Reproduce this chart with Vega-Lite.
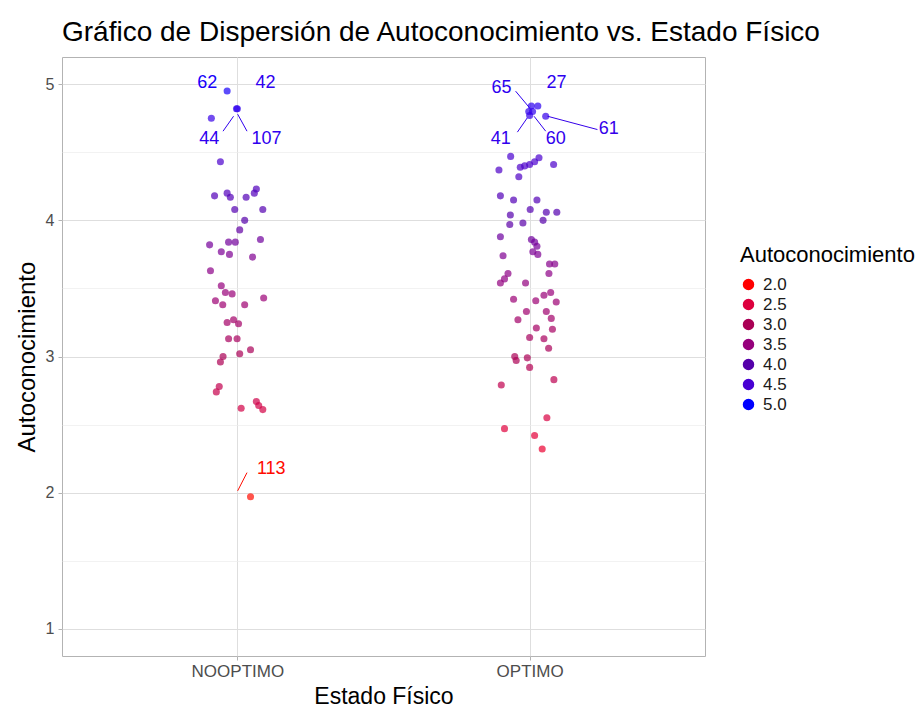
{
  "$schema": "https://vega.github.io/schema/vega-lite/v6.json",
  "autosize": "none",
  "width": 643,
  "height": 599,
  "padding": {"left": 62, "top": 57, "right": 213, "bottom": 59},
  "background": "white",
  "title": {
    "text": "Gráfico de Dispersión de Autoconocimiento vs. Estado Físico",
    "anchor": "start",
    "frame": "group",
    "font": "Liberation Sans",
    "fontSize": 28,
    "fontWeight": "normal",
    "color": "#000000",
    "offset": 10
  },
  "config": {
    "view": {"stroke": "#B3B3B3", "strokeWidth": 1},
    "font": "Liberation Sans"
  },
  "datasets": {
    "points": [
      {"estado": "NOOPTIMO", "xpos": 0.965, "autoconocimiento": 4.95},
      {"estado": "NOOPTIMO", "xpos": 0.997, "autoconocimiento": 4.82},
      {"estado": "NOOPTIMO", "xpos": 1.0, "autoconocimiento": 4.82},
      {"estado": "NOOPTIMO", "xpos": 0.911, "autoconocimiento": 4.75},
      {"estado": "NOOPTIMO", "xpos": 0.942, "autoconocimiento": 4.43},
      {"estado": "NOOPTIMO", "xpos": 0.922, "autoconocimiento": 4.18},
      {"estado": "NOOPTIMO", "xpos": 0.965, "autoconocimiento": 4.2},
      {"estado": "NOOPTIMO", "xpos": 0.976, "autoconocimiento": 4.17},
      {"estado": "NOOPTIMO", "xpos": 1.03, "autoconocimiento": 4.17},
      {"estado": "NOOPTIMO", "xpos": 1.058, "autoconocimiento": 4.2},
      {"estado": "NOOPTIMO", "xpos": 1.065, "autoconocimiento": 4.23},
      {"estado": "NOOPTIMO", "xpos": 0.991, "autoconocimiento": 4.08},
      {"estado": "NOOPTIMO", "xpos": 1.087, "autoconocimiento": 4.08},
      {"estado": "NOOPTIMO", "xpos": 1.025, "autoconocimiento": 4.0},
      {"estado": "NOOPTIMO", "xpos": 1.008, "autoconocimiento": 3.93},
      {"estado": "NOOPTIMO", "xpos": 0.905, "autoconocimiento": 3.82},
      {"estado": "NOOPTIMO", "xpos": 0.97, "autoconocimiento": 3.84},
      {"estado": "NOOPTIMO", "xpos": 0.993, "autoconocimiento": 3.84},
      {"estado": "NOOPTIMO", "xpos": 1.079, "autoconocimiento": 3.86},
      {"estado": "NOOPTIMO", "xpos": 0.945, "autoconocimiento": 3.77},
      {"estado": "NOOPTIMO", "xpos": 0.973, "autoconocimiento": 3.75},
      {"estado": "NOOPTIMO", "xpos": 1.052, "autoconocimiento": 3.73},
      {"estado": "NOOPTIMO", "xpos": 0.908, "autoconocimiento": 3.63},
      {"estado": "NOOPTIMO", "xpos": 0.945, "autoconocimiento": 3.52},
      {"estado": "NOOPTIMO", "xpos": 0.959, "autoconocimiento": 3.47},
      {"estado": "NOOPTIMO", "xpos": 0.982, "autoconocimiento": 3.46},
      {"estado": "NOOPTIMO", "xpos": 0.925, "autoconocimiento": 3.41},
      {"estado": "NOOPTIMO", "xpos": 0.95, "autoconocimiento": 3.38},
      {"estado": "NOOPTIMO", "xpos": 1.025, "autoconocimiento": 3.38},
      {"estado": "NOOPTIMO", "xpos": 1.09, "autoconocimiento": 3.43},
      {"estado": "NOOPTIMO", "xpos": 0.965, "autoconocimiento": 3.25},
      {"estado": "NOOPTIMO", "xpos": 0.987, "autoconocimiento": 3.27},
      {"estado": "NOOPTIMO", "xpos": 1.004, "autoconocimiento": 3.24},
      {"estado": "NOOPTIMO", "xpos": 0.97, "autoconocimiento": 3.13},
      {"estado": "NOOPTIMO", "xpos": 0.999, "autoconocimiento": 3.13},
      {"estado": "NOOPTIMO", "xpos": 1.008, "autoconocimiento": 3.02},
      {"estado": "NOOPTIMO", "xpos": 1.045, "autoconocimiento": 3.05},
      {"estado": "NOOPTIMO", "xpos": 0.951, "autoconocimiento": 3.0},
      {"estado": "NOOPTIMO", "xpos": 0.942, "autoconocimiento": 2.96},
      {"estado": "NOOPTIMO", "xpos": 0.938, "autoconocimiento": 2.78},
      {"estado": "NOOPTIMO", "xpos": 0.928, "autoconocimiento": 2.74},
      {"estado": "NOOPTIMO", "xpos": 1.013, "autoconocimiento": 2.62},
      {"estado": "NOOPTIMO", "xpos": 1.065, "autoconocimiento": 2.67},
      {"estado": "NOOPTIMO", "xpos": 1.073, "autoconocimiento": 2.64},
      {"estado": "NOOPTIMO", "xpos": 1.087, "autoconocimiento": 2.61},
      {"estado": "NOOPTIMO", "xpos": 1.045, "autoconocimiento": 1.97},
      {"estado": "OPTIMO", "xpos": 2.006, "autoconocimiento": 4.84},
      {"estado": "OPTIMO", "xpos": 2.028, "autoconocimiento": 4.84},
      {"estado": "OPTIMO", "xpos": 1.997, "autoconocimiento": 4.8},
      {"estado": "OPTIMO", "xpos": 2.01, "autoconocimiento": 4.8},
      {"estado": "OPTIMO", "xpos": 2.0, "autoconocimiento": 4.77},
      {"estado": "OPTIMO", "xpos": 2.055, "autoconocimiento": 4.765},
      {"estado": "OPTIMO", "xpos": 1.935, "autoconocimiento": 4.47},
      {"estado": "OPTIMO", "xpos": 1.895, "autoconocimiento": 4.37},
      {"estado": "OPTIMO", "xpos": 1.968, "autoconocimiento": 4.39},
      {"estado": "OPTIMO", "xpos": 1.983, "autoconocimiento": 4.4},
      {"estado": "OPTIMO", "xpos": 2.0, "autoconocimiento": 4.41},
      {"estado": "OPTIMO", "xpos": 2.017, "autoconocimiento": 4.43},
      {"estado": "OPTIMO", "xpos": 2.032, "autoconocimiento": 4.46},
      {"estado": "OPTIMO", "xpos": 1.963, "autoconocimiento": 4.32},
      {"estado": "OPTIMO", "xpos": 2.082, "autoconocimiento": 4.41},
      {"estado": "OPTIMO", "xpos": 1.9, "autoconocimiento": 4.18},
      {"estado": "OPTIMO", "xpos": 1.945, "autoconocimiento": 4.15},
      {"estado": "OPTIMO", "xpos": 2.025, "autoconocimiento": 4.15},
      {"estado": "OPTIMO", "xpos": 2.002, "autoconocimiento": 4.08},
      {"estado": "OPTIMO", "xpos": 2.057, "autoconocimiento": 4.06},
      {"estado": "OPTIMO", "xpos": 2.093, "autoconocimiento": 4.06},
      {"estado": "OPTIMO", "xpos": 1.934, "autoconocimiento": 4.04},
      {"estado": "OPTIMO", "xpos": 1.932, "autoconocimiento": 3.97},
      {"estado": "OPTIMO", "xpos": 1.977, "autoconocimiento": 3.98},
      {"estado": "OPTIMO", "xpos": 2.046, "autoconocimiento": 4.0},
      {"estado": "OPTIMO", "xpos": 1.9, "autoconocimiento": 3.88},
      {"estado": "OPTIMO", "xpos": 2.006, "autoconocimiento": 3.86},
      {"estado": "OPTIMO", "xpos": 2.017, "autoconocimiento": 3.84},
      {"estado": "OPTIMO", "xpos": 2.025, "autoconocimiento": 3.81},
      {"estado": "OPTIMO", "xpos": 2.011, "autoconocimiento": 3.77},
      {"estado": "OPTIMO", "xpos": 2.028, "autoconocimiento": 3.75},
      {"estado": "OPTIMO", "xpos": 1.909, "autoconocimiento": 3.74},
      {"estado": "OPTIMO", "xpos": 2.068, "autoconocimiento": 3.68},
      {"estado": "OPTIMO", "xpos": 2.086, "autoconocimiento": 3.68},
      {"estado": "OPTIMO", "xpos": 2.066, "autoconocimiento": 3.61},
      {"estado": "OPTIMO", "xpos": 1.926, "autoconocimiento": 3.61},
      {"estado": "OPTIMO", "xpos": 1.914, "autoconocimiento": 3.57},
      {"estado": "OPTIMO", "xpos": 1.9, "autoconocimiento": 3.54},
      {"estado": "OPTIMO", "xpos": 1.986, "autoconocimiento": 3.54},
      {"estado": "OPTIMO", "xpos": 1.945, "autoconocimiento": 3.42},
      {"estado": "OPTIMO", "xpos": 2.021, "autoconocimiento": 3.41},
      {"estado": "OPTIMO", "xpos": 2.049, "autoconocimiento": 3.45},
      {"estado": "OPTIMO", "xpos": 2.072, "autoconocimiento": 3.47},
      {"estado": "OPTIMO", "xpos": 2.091, "autoconocimiento": 3.4},
      {"estado": "OPTIMO", "xpos": 1.989, "autoconocimiento": 3.33},
      {"estado": "OPTIMO", "xpos": 2.057, "autoconocimiento": 3.33},
      {"estado": "OPTIMO", "xpos": 2.074, "autoconocimiento": 3.28},
      {"estado": "OPTIMO", "xpos": 1.96, "autoconocimiento": 3.27},
      {"estado": "OPTIMO", "xpos": 2.023, "autoconocimiento": 3.21},
      {"estado": "OPTIMO", "xpos": 2.078, "autoconocimiento": 3.2},
      {"estado": "OPTIMO", "xpos": 2.0, "autoconocimiento": 3.14},
      {"estado": "OPTIMO", "xpos": 2.049, "autoconocimiento": 3.13},
      {"estado": "OPTIMO", "xpos": 2.065, "autoconocimiento": 3.06},
      {"estado": "OPTIMO", "xpos": 1.949, "autoconocimiento": 3.0},
      {"estado": "OPTIMO", "xpos": 1.954, "autoconocimiento": 2.97},
      {"estado": "OPTIMO", "xpos": 1.992, "autoconocimiento": 2.99},
      {"estado": "OPTIMO", "xpos": 2.0, "autoconocimiento": 2.92},
      {"estado": "OPTIMO", "xpos": 2.083, "autoconocimiento": 2.83},
      {"estado": "OPTIMO", "xpos": 1.903, "autoconocimiento": 2.79},
      {"estado": "OPTIMO", "xpos": 2.059, "autoconocimiento": 2.55},
      {"estado": "OPTIMO", "xpos": 1.914, "autoconocimiento": 2.47},
      {"estado": "OPTIMO", "xpos": 2.017, "autoconocimiento": 2.42},
      {"estado": "OPTIMO", "xpos": 2.043, "autoconocimiento": 2.32}
    ],
    "labels": [
      {"id": "62", "lx": 0.897, "ly": 5.007, "autoconocimiento": 4.95},
      {"id": "42", "lx": 1.096, "ly": 5.007, "autoconocimiento": 4.82},
      {"id": "44", "lx": 0.904, "ly": 4.6, "autoconocimiento": 4.82},
      {"id": "107", "lx": 1.1, "ly": 4.6, "autoconocimiento": 4.82},
      {"id": "113", "lx": 1.116, "ly": 2.174, "autoconocimiento": 1.97},
      {"id": "65", "lx": 1.904, "ly": 4.97, "autoconocimiento": 4.84},
      {"id": "27", "lx": 2.092, "ly": 5.007, "autoconocimiento": 4.84},
      {"id": "41", "lx": 1.901, "ly": 4.6, "autoconocimiento": 4.8},
      {"id": "60", "lx": 2.089, "ly": 4.6, "autoconocimiento": 4.8},
      {"id": "61", "lx": 2.271, "ly": 4.67, "autoconocimiento": 4.77}
    ],
    "segments": [
      {"id": "44", "x1": 0.951, "y1": 4.655, "x2": 0.987, "y2": 4.765, "autoconocimiento": 4.82},
      {"id": "107", "x1": 1.033, "y1": 4.655, "x2": 1.001, "y2": 4.78, "autoconocimiento": 4.82},
      {"id": "113", "x1": 1.001, "y1": 2.013, "x2": 1.033, "y2": 2.147, "autoconocimiento": 1.97},
      {"id": "65", "x1": 1.952, "y1": 4.949, "x2": 2.0, "y2": 4.826, "autoconocimiento": 4.84},
      {"id": "41", "x1": 1.958, "y1": 4.648, "x2": 1.992, "y2": 4.753, "autoconocimiento": 4.8},
      {"id": "60", "x1": 2.055, "y1": 4.655, "x2": 2.015, "y2": 4.765, "autoconocimiento": 4.8},
      {"id": "61", "x1": 2.061, "y1": 4.765, "x2": 2.232, "y2": 4.667, "autoconocimiento": 4.77}
    ]
  },
  "resolve": {"axis": {"y": "independent", "x": "independent"}},
  "layer": [
    {
      "data": {"name": "points"},
      "mark": {"type": "circle", "size": 50},
      "encoding": {
        "x": {"field": "xpos", "type": "quantitative", "scale": {"domain": [0.4, 2.6], "nice": false, "zero": false},
          "axis": {"orient": "bottom", "values": [1, 2], "labelExpr": "datum.value == 1 ? 'NOOPTIMO' : 'OPTIMO'", "title": "Estado Físico",
            "grid": true, "gridColor": "#DEDEDE", "gridWidth": 1, "domain": false, "ticks": true, "tickSize": 4, "tickColor": "#B3B3B3",
            "labelFont": "Liberation Sans", "labelFontSize": 17, "labelColor": "#4D4D4D", "labelPadding": 3,
            "titleFont": "Liberation Sans", "titleFontSize": 23, "titleFontWeight": "normal", "titleColor": "#000000", "titlePadding": 6}},
        "y": {"field": "autoconocimiento", "type": "quantitative", "scale": {"domain": [0.8, 5.2], "nice": false, "zero": false},
          "axis": {"orient": "left", "values": [1, 2, 3, 4, 5], "title": "Autoconocimiento",
            "grid": true, "gridColor": "#DEDEDE", "gridWidth": 1, "domain": false, "ticks": true, "tickSize": 4, "tickColor": "#B3B3B3",
            "labelFont": "Liberation Sans", "labelFontSize": 16, "labelColor": "#4D4D4D", "labelPadding": 4,
            "titleFont": "Liberation Sans", "titleFontSize": 24, "titleFontWeight": "normal", "titleColor": "#000000", "titlePadding": 6}},
        "color": {"field": "autoconocimiento", "type": "quantitative",
          "scale": {"type": "linear", "domain": [2, 3, 4, 5], "range": ["#FF0000", "#AA0055", "#5500AA", "#0000FF"]},
          "legend": {"title": "Autoconocimiento", "orient": "none", "legendX": 678, "legendY": 188, "direction": "vertical",
            "gradientLength": 192, "gradientThickness": 37, "gradientStrokeWidth": 0,
            "titleFont": "Liberation Sans", "titleFontSize": 22, "titleFontWeight": "normal", "titleColor": "#000000", "titlePadding": 9,
            "labelFont": "Liberation Sans", "labelFontSize": 17, "labelColor": "#1A1A1A", "labelOffset": 6}}
      }
    },
    {
      "data": {"name": "segments"},
      "mark": {"type": "rule", "strokeWidth": 1},
      "encoding": {
        "x": {"field": "x1", "type": "quantitative",
          "axis": {"orient": "bottom", "labels": false, "ticks": false, "domain": false, "grid": false, "title": null}},
        "x2": {"field": "x2"},
        "y": {"field": "y1", "type": "quantitative",
          "axis": {"orient": "left", "values": [1.5, 2.5, 3.5, 4.5], "labels": false, "ticks": false, "domain": false, "grid": true, "gridColor": "#EDEDED", "gridWidth": 0.7, "title": null}},
        "y2": {"field": "y2"},
        "stroke": {"field": "autoconocimiento", "type": "quantitative",
          "scale": {"type": "linear", "domain": [2, 3, 4, 5], "range": ["#FF0000", "#AA0055", "#5500AA", "#0000FF"]}, "legend": null}
      }
    },
    {
      "data": {"name": "labels"},
      "mark": {"type": "text", "fontSize": 18, "font": "Liberation Sans", "baseline": "middle", "align": "center"},
      "encoding": {
        "x": {"field": "lx", "type": "quantitative", "axis": null},
        "y": {"field": "ly", "type": "quantitative", "axis": null},
        "text": {"field": "id"},
        "fill": {"field": "autoconocimiento", "type": "quantitative",
          "scale": {"type": "linear", "domain": [2, 3, 4, 5], "range": ["#FF0000", "#AA0055", "#5500AA", "#0000FF"]}, "legend": null}
      }
    }
  ]
}
